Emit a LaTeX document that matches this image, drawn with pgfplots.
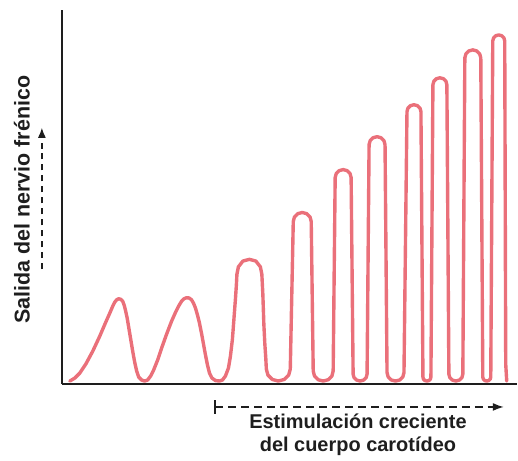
\documentclass[border=0pt]{standalone}
\usepackage{pgfplots}
\pgfplotsset{compat=1.18}
\usepackage{fontspec}
\setmainfont{Liberation Sans}
\usetikzlibrary{arrows.meta}
\definecolor{curvecol}{RGB}{234,112,122}
\definecolor{axcol}{RGB}{30,30,30}
\begin{document}
\begin{tikzpicture}
\begin{axis}[
  scale only axis,
  width=456pt, height=375pt,
  xmin=62, xmax=518, ymin=0, ymax=375,
  axis lines=left,
  axis line style={-, line width=2.6pt, color=axcol},
  xtick=\empty, ytick=\empty,
  clip=false,
]
\path (rel axis cs:-0.1360,-0.2053) rectangle (rel axis cs:1,1.0267);
\addplot[sharp plot, line join=round, line cap=round, color=curvecol, line width=3.4pt] coordinates {
 (70,3) (75,6) (80,11) (86,20) (93,33) (100,48) (106,62) (110,71) (113,78) (115,82) (117,84.5) (119,85.5)
 (121,85) (123,83) (124.5,79) (126,73) (127.5,66) (129,57) (131,45) (133,33) (135,22) (137,13) (139,7) (142,4)
 (145,3) (148,4) (151,8) (154,14) (158,24) (162,36) (167,50) (172,63) (176,72) (179,78) (182,83) (184.5,85.5)
 (187,86.5) (189.5,86.3) (192,84.5) (194,81) (196,76) (198,69) (200,61) (202,51) (204,40) (206,29)
 (208,19) (210,11) (212.5,6) (216,3.5) (220,3)
 (223,4) (226,8) (229,16) (231,28) (233,45) (234.5,65) (236,85) (237,100) (237.5,110)
 (239,117.5) (243.5,123.3) (250,125) (256.5,123.3) (261,117.5) (262.5,110)
 (263.5,90) (264.5,60) (265.5,40) (266.5,25)
 (267,15) (268.6,9) (273,4.6) (279,3) (285,4.6) (289.4,9) (291,15)
 (294,163) (295.2,167.5) (298.5,170.8) (303,172) (307.5,170.8) (310.8,167.5) (312,163)
 (314,13) (315.3,8) (319,4.3) (324,3) (329,4.3) (332.7,8) (334,13)
 (336,207) (337.1,211) (340,213.9) (344,215) (348,213.9) (350.9,211) (352,207)
 (354,10) (354.9,6.5) (357.5,4) (361,3) (364.5,4) (367.1,6.5) (368,10)
 (370,240) (371.1,244) (374,246.9) (378,248) (382,246.9) (384.9,244) (386,240)
 (388,11.5) (389.1,7.25) (392.25,4.1) (396.5,3) (400.75,4.1) (403.9,7.25) (405,11.5)
 (408,273) (408.9,276.5) (411.5,279.1) (415,280) (418.5,279.1) (421.1,276.5) (422,273)
 (424,7) (424.5,5) (426,3.5) (428,3) (430,3.5) (431.5,5) (432,7)
 (434,300) (434.9,303.5) (437.5,306.1) (441,307) (444.5,306.1) (447.1,303.5) (448,300)
 (450,10) (450.9,6.5) (453.5,4) (457,3) (460.5,4) (463.1,6.5) (464,10)
 (466,327) (467.1,331) (470,333.9) (474,335) (478,333.9) (480.9,331) (482,327)
 (484,7) (484.5,5) (486,3.5) (488,3) (490,3.5) (491.5,5) (492,7)
 (494,344) (494.8,347) (497,349.2) (500,350) (503,349.2) (505.2,347) (506,344)
 (507,20) (508,3)
};
% y label
\node[rotate=90, font=\fontsize{21.5}{25}\selectfont\bfseries, text=axcol] at (rel axis cs:-0.0877,0.493) {Salida del nervio frénico};
\draw[axcol, line width=1.3pt, dash pattern=on 6pt off 5pt, -{Latex[length=10pt,width=8pt]}] (rel axis cs:-0.0439,0.307) -- (rel axis cs:-0.0439,0.685);
% x label
\draw[axcol, line width=1.3pt, dash pattern=on 8pt off 5pt, {Bar[width=14pt]}-{Latex[length=11pt,width=8pt]}] (rel axis cs:0.3355,-0.0613) -- (rel axis cs:0.9715,-0.0613);
\node[align=center, font=\fontsize{20}{23}\selectfont\bfseries, text=axcol] at (rel axis cs:0.651,-0.136) {Estimulación creciente\\del cuerpo carotídeo};
\end{axis}
\end{tikzpicture}
\end{document}
